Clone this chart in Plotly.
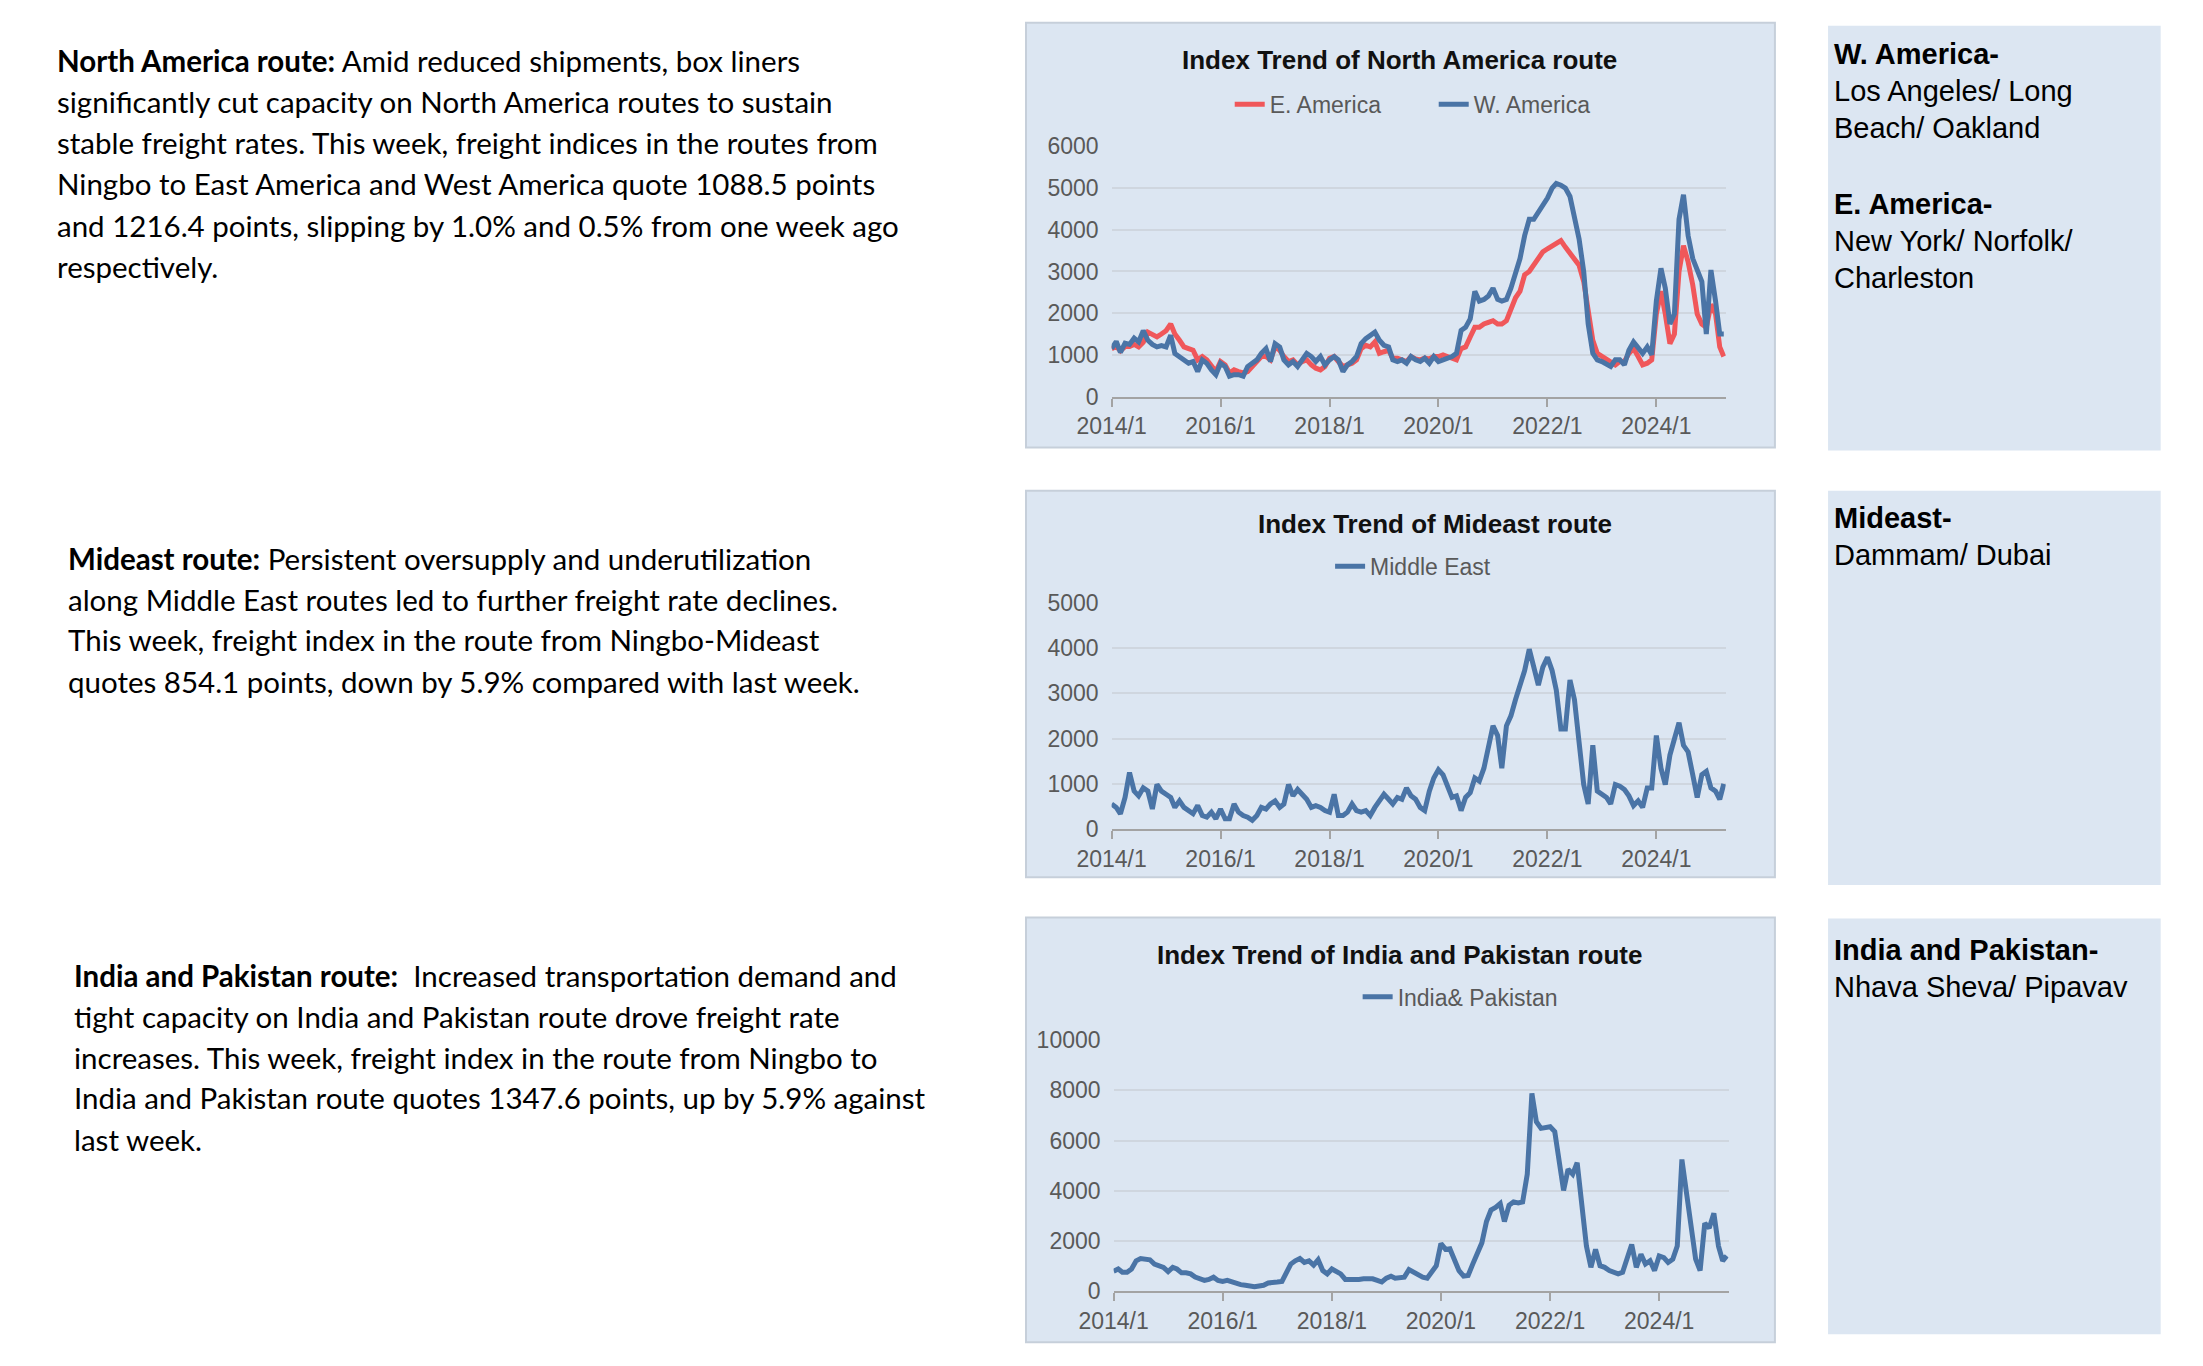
import pandas as pd
import plotly.graph_objects as go

W, H = 2203, 1366

# ---------------- data ----------------
start_month = "2014-01-01"
n_months = 135
last_date = "2025-03-28"

w_america = [1150, 1320, 1060, 1280, 1250, 1400, 1310, 1580, 1350, 1250, 1190, 1220,
             1190, 1470, 1035, 960, 880, 800, 840, 600, 880, 800, 640, 525,
             800, 720, 490, 525, 525, 490, 720, 800, 880, 1035, 1150, 840,
             1270, 1190, 880, 760, 840, 720, 880, 1035, 960, 840, 960, 760,
             880, 960, 880, 600, 760, 840, 960, 1270, 1390, 1470, 1545, 1350,
             1230, 1190, 880, 840, 880, 800, 960, 880, 840, 920, 800, 960,
             840, 880, 920, 960, 1035, 1585, 1660, 1860, 2525, 2290, 2330, 2410,
             2600, 2330, 2290, 2330, 2600, 2960, 3310, 3860, 4250, 4250, 4410, 4560,
             4760, 5000, 5110, 5070, 5000, 4800, 4330, 3780, 3000, 1740, 1035, 880,
             840, 760, 720, 880, 880, 760, 1110, 1310, 1190, 1035, 1190, 1000,
             2290, 3075, 2600, 1740, 1980, 4250, 4840, 3860, 3310, 3000, 2760, 1500,
             3035, 2290, 1500, 1500]

e_america = [1150, 1200, 1100, 1200, 1200, 1250, 1190, 1300, 1545, 1480, 1430, 1500,
             1580, 1740, 1500, 1350, 1190, 1150, 1110, 880, 960, 880, 720, 600,
             840, 760, 565, 640, 600, 565, 600, 720, 840, 960, 960, 880,
             1190, 1110, 960, 840, 880, 760, 840, 880, 760, 680, 640, 720,
             920, 960, 840, 720, 760, 800, 880, 1150, 1230, 1190, 1310, 1035,
             1075, 1110, 920, 920, 880, 840, 960, 900, 880, 920, 900, 960,
             960, 1000, 960, 920, 880, 1150, 1190, 1430, 1660, 1660, 1740, 1780,
             1820, 1740, 1740, 1820, 2090, 2370, 2525, 2920, 3000, 3150, 3310, 3470,
             3545, 3620, 3700, 3740, 3585, 3430, 3270, 3150, 2760, 2130, 1350, 1035,
             960, 880, 800, 760, 840, 840, 1035, 1150, 960, 760, 800, 880,
             1980, 2525, 1980, 1270, 1500, 3000, 3620, 3230, 2680, 1980, 1740, 1660,
             2210, 1980, 1190, 960]

middle_east = [555, 480, 340, 700, 1250, 840, 735, 910, 840, 445, 985, 840,
               770, 700, 480, 625, 480, 410, 340, 520, 300, 265, 375, 230,
               445, 230, 230, 555, 375, 300, 265, 195, 300, 480, 445, 555,
               625, 480, 555, 985, 735, 875, 770, 660, 480, 520, 480, 410,
               375, 770, 300, 300, 375, 555, 410, 375, 410, 300, 480, 625,
               770, 660, 555, 700, 660, 910, 735, 660, 480, 410, 840, 1130,
               1310, 1200, 985, 700, 735, 410, 700, 805, 1130, 1060, 1345, 1780,
               2280, 2065, 1345, 2280, 2500, 2860, 3145, 3500, 3970, 3575, 3180, 3575,
               3790, 3500, 3070, 2210, 2210, 3290, 2860, 1920, 985, 555, 1850, 840,
               770, 700, 555, 985, 950, 875, 735, 520, 625, 480, 910, 910,
               2065, 1345, 985, 1635, 1990, 2350, 1850, 1705, 1200, 700, 1200, 1275,
               910, 840, 660, 1000]

india_pakistan = [795, 885, 755, 755, 885, 1210, 1300, 1275, 1250, 1080, 1015, 950,
                  780, 950, 885, 730, 730, 690, 560, 495, 430, 470, 560, 430,
                  390, 430, 365, 300, 260, 235, 195, 180, 210, 235, 325, 365,
                  365, 390, 755, 1080, 1210, 1300, 1145, 1210, 1040, 1250, 820, 690,
                  885, 755, 690, 470, 455, 470, 470, 495, 495, 495, 430, 365,
                  520, 600, 520, 520, 560, 860, 755, 690, 560, 520, 755, 1015,
                  1900, 1665, 1690, 1275, 820, 600, 625, 1080, 1535, 1925, 2775, 3230,
                  3335, 3490, 2775, 3425, 3555, 3515, 3555, 4660, 7880, 6745, 6485, 6510,
                  6550, 6355, 5180, 4010, 4855, 4660, 5115, 3360, 1795, 950, 1665, 1015,
                  950, 820, 755, 690, 755, 1340, 1860, 950, 1470, 1080, 1210, 820,
                  1405, 1340, 1145, 1275, 1795, 5245, 3880, 2515, 1275, 820, 2710, 2515,
                  3100, 1795, 1210, 1405]

dates = list(pd.date_range(start_month, periods=n_months, freq="MS")) + [pd.Timestamp(last_date)]

chart_titles = ["Index Trend of North America route",
                "Index Trend of Mideast route",
                "Index Trend of India and Pakistan route"]

left_texts = [
    ["<b>North America route:</b> Amid reduced shipments, box liners",
     "significantly cut capacity on North America routes to sustain",
     "stable freight rates. This week, freight indices in the routes from",
     "Ningbo to East America and West America quote 1088.5 points",
     "and 1216.4 points, slipping by 1.0% and 0.5% from one week ago",
     "respectively."],
    ["<b>Mideast route:</b> Persistent oversupply and underutilization",
     "along Middle East routes led to further freight rate declines.",
     "This week, freight index in the route from Ningbo-Mideast",
     "quotes 854.1 points, down by 5.9% compared with last week."],
    ["<b>India and Pakistan route:</b> \u00a0Increased transportation demand and",
     "tight capacity on India and Pakistan route drove freight rate",
     "increases. This week, freight index in the route from Ningbo to",
     "India and Pakistan route quotes 1347.6 points, up by 5.9% against",
     "last week."],
]

port_texts = [
    [("<b>W. America-</b>", 42), ("Los Angeles/ Long", 80), ("Beach/ Oakland", 117),
     ("<b>E. America-</b>", 195), ("New York/ Norfolk/", 232), ("Charleston", 270)],
    [("<b>Mideast-</b>", 515), ("Dammam/ Dubai", 553)],
    [("<b>India and Pakistan-</b>", 955), ("Nhava Sheva/ Pipavav", 993)],
]

# ---------------- styles ----------------
BLUE = "#4A74A6"
RED = "#F0575A"
PANEL = "#DCE6F2"
PANEL_BORDER = "#C6CFDA"
GRID = "#CFD6DF"
AXIS = "#A3A3A3"
TICKC = "#595959"
CHART_FONT = "Liberation Sans, Arial, sans-serif"
TEXT_FONT = "Lato, sans-serif"
LW = 5


def px(x):
    return x / W


def py(y):
    return 1 - y / H


fig = go.Figure()

fig.add_trace(go.Scatter(x=dates, y=e_america, name="E. America", mode="lines",
                         line=dict(color=RED, width=LW), xaxis="x", yaxis="y", legend="legend"))
fig.add_trace(go.Scatter(x=dates, y=w_america, name="W. America", mode="lines",
                         line=dict(color=BLUE, width=LW), xaxis="x", yaxis="y", legend="legend"))
fig.add_trace(go.Scatter(x=dates, y=middle_east, name="Middle East", mode="lines",
                         line=dict(color=BLUE, width=LW), xaxis="x2", yaxis="y2", legend="legend2"))
fig.add_trace(go.Scatter(x=dates, y=india_pakistan, name="India& Pakistan", mode="lines",
                         line=dict(color=BLUE, width=LW), xaxis="x3", yaxis="y3", legend="legend3"))

xr = ["2014-01-01", "2025-04-10"]


def xaxis(dom, anchor):
    return dict(domain=dom, anchor=anchor, type="date", range=xr, tickformat="%Y/%-m",
                dtick="M24", tick0="2014-01-01", ticks="outside", ticklen=8, tickwidth=2,
                tickcolor=AXIS, showline=True, linecolor=AXIS, linewidth=2, showgrid=False,
                zeroline=False, tickfont=dict(family=CHART_FONT, size=23, color=TICKC))


def yaxis(dom, anchor, rng, dt):
    return dict(domain=dom, anchor=anchor, range=rng, dtick=dt, tick0=0, showgrid=True,
                gridcolor=GRID, gridwidth=1.5, zeroline=False, showline=False, ticks="",
                ticklabelstandoff=12, tickformat="d",
                tickfont=dict(family=CHART_FONT, size=23, color=TICKC))


shapes = []
for (y0, y1) in [(10, 443), (487, 881), (922, 1355)]:
    shapes.append(dict(type="rect", xref="paper", yref="paper", x0=px(1007), x1=px(1768),
                       y0=py(y1), y1=py(y0), fillcolor=PANEL,
                       line=dict(color=PANEL_BORDER, width=2), layer="below"))
for (y0, y1) in [(13, 446), (487, 889), (923, 1347)]:
    shapes.append(dict(type="rect", xref="paper", yref="paper", x0=px(1822), x1=px(2160),
                       y0=py(y1), y1=py(y0), fillcolor=PANEL, line=dict(width=0), layer="below"))

annotations = []
for t, (cx, cy) in zip(chart_titles, [(1387, 48), (1423, 521), (1387, 960)]):
    annotations.append(dict(text="<b>" + t + "</b>", x=px(cx), y=py(cy), xref="paper", yref="paper",
                            xanchor="center", yanchor="middle", showarrow=False,
                            font=dict(family=CHART_FONT, size=26, color="#111111")))
for lines, x0, ys in zip(left_texts, [20, 31, 38],
                         [[48, 90, 132, 174, 217, 258], [556, 598, 639, 681],
                          [981, 1023, 1065, 1106, 1148]]):
    for line, yy in zip(lines, ys):
        annotations.append(dict(text=line, x=px(x0), y=py(yy), xref="paper", yref="paper",
                                xanchor="left", yanchor="middle", showarrow=False,
                                font=dict(family=TEXT_FONT, size=29.5, color="#000000")))
for group in port_texts:
    for line, yy in group:
        annotations.append(dict(text=line, x=px(1826), y=py(yy), xref="paper", yref="paper",
                                xanchor="left", yanchor="middle", showarrow=False,
                                font=dict(family=CHART_FONT, size=29, color="#000000")))

leg_common = dict(orientation="h", xanchor="left", yanchor="middle", bgcolor="rgba(0,0,0,0)",
                  font=dict(family=CHART_FONT, size=23, color=TICKC), itemwidth=30,
                  tracegroupgap=0, borderwidth=0)

fig.update_layout(
    width=W, height=H, margin=dict(l=0, r=0, t=0, b=0),
    paper_bgcolor="white", plot_bgcolor="rgba(0,0,0,0)",
    xaxis=xaxis([px(1094), px(1718)], "y"),
    yaxis=yaxis([py(391), py(136)], "x", [0, 6000], 1000),
    xaxis2=xaxis([px(1094), px(1718)], "y2"),
    yaxis2=yaxis([py(832), py(601)], "x2", [0, 5000], 1000),
    xaxis3=xaxis([px(1096), px(1721)], "y3"),
    yaxis3=yaxis([py(1303), py(1047)], "x3", [0, 10000], 2000),
    legend=dict(x=px(1214), y=py(93), entrywidth=159, **leg_common),
    legend2=dict(x=px(1316), y=py(564), **leg_common),
    legend3=dict(x=px(1344), y=py(1003), **leg_common),
    shapes=shapes, annotations=annotations, showlegend=True,
)

fig.write_html("out.html", config={"displayModeBar": False},
               post_script="document.body.style.margin='0';document.body.style.overflow='hidden';")
